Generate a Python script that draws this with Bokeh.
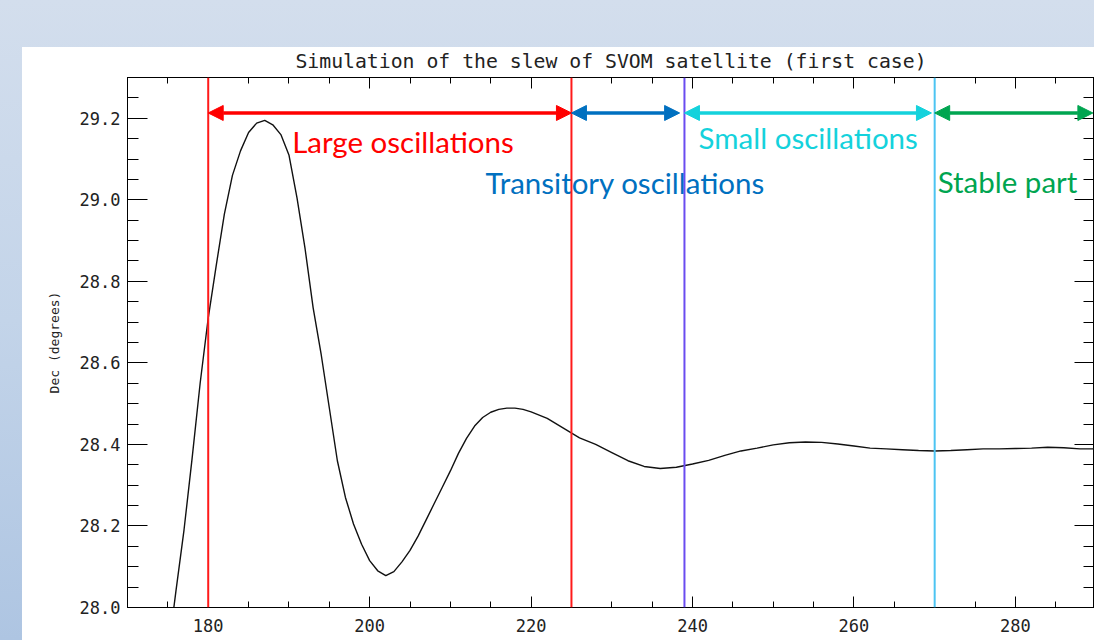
from bokeh.plotting import figure
from bokeh.models import (Span, Arrow, NormalHead, LinearAxis, FixedTicker,
                          Range1d, ColumnDataSource, CustomJSTickFormatter,
                          PrintfTickFormatter)
from bokeh.core.properties import value
from bokeh.embed import file_html
from bokeh.resources import INLINE

# ---------------- data ----------------
time_s = [174.0, 175.0, 176.0, 177.0, 178.0, 179.0, 180.0, 181.0, 182.0, 183.0,
          184.0, 185.0, 186.0, 187.0, 188.0, 189.0, 190.0, 191.0, 192.0, 193.0,
          194.0, 195.0, 196.0, 197.0, 198.0, 199.0, 200.0, 201.0, 202.0, 203.0,
          204.0, 205.0, 206.0, 207.0, 208.0, 209.0, 210.0, 211.0, 212.0, 213.0,
          214.0, 215.0, 216.0, 217.0, 218.0, 219.0, 220.0, 222.0, 224.0, 226.0,
          228.0, 230.0, 232.0, 234.0, 236.0, 238.0, 240.0, 242.0, 244.0, 246.0,
          248.0, 250.0, 252.0, 254.0, 256.0, 258.0, 260.0, 262.0, 264.0, 266.0,
          268.0, 270.0, 272.0, 274.0, 276.0, 278.0, 280.0, 282.0, 284.0, 286.0,
          288.0, 290.0]
dec_deg = [27.72, 27.885, 28.04, 28.19, 28.365, 28.55, 28.71, 28.84, 28.965, 29.06,
           29.12, 29.165, 29.188, 29.195, 29.184, 29.16, 29.11, 29.005, 28.88, 28.735,
           28.62, 28.49, 28.36, 28.27, 28.205, 28.155, 28.115, 28.09, 28.078, 28.088,
           28.112, 28.14, 28.175, 28.215, 28.255, 28.295, 28.335, 28.378, 28.415, 28.445,
           28.466, 28.479, 28.486, 28.489, 28.489, 28.486, 28.48, 28.464, 28.44, 28.416,
           28.4, 28.38, 28.36, 28.346, 28.341, 28.344, 28.352, 28.361, 28.373, 28.384,
           28.391, 28.399, 28.404, 28.406, 28.405, 28.401, 28.396, 28.391, 28.389, 28.387,
           28.385, 28.384, 28.385, 28.387, 28.389, 28.389, 28.39, 28.391, 28.393, 28.392,
           28.389, 28.389]

x_major = [180, 200, 220, 240, 260, 280]
x_minor = [170, 175, 185, 190, 195, 205, 210, 215, 225, 230, 235, 245, 250, 255,
           265, 270, 275, 285, 290]
y_major = [28.0, 28.2, 28.4, 28.6, 28.8, 29.0, 29.2]
y_minor = [28.05, 28.1, 28.15, 28.25, 28.3, 28.35, 28.45, 28.5, 28.55, 28.65, 28.7,
           28.75, 28.85, 28.9, 28.95, 29.05, 29.1, 29.15, 29.25, 29.3]

phase_bounds = [180, 225, 239, 270]
bound_colors = ["#ff1a1a", "#ff1a1a", "#6a4cf0", "#4cc4f2"]

arrow_start = [180, 225, 239, 270]
arrow_end = [225, 238.4, 269.6, 289.6]
arrow_level = 29.213
arrow_colors = ["#ff0000", "#0070c0", "#14d2dc", "#00a550"]

phase_names = ["Large oscillations", "Transitory oscillations", "Small oscillations", "Stable part"]
name_x = [190.4, 214.35, 240.75, 270.37]
name_y = [29.144, 29.042, 29.152, 29.045]

# ---------------- figure ----------------
p = figure(width=1094, height=640, output_backend="svg", toolbar_location=None,
           x_range=Range1d(170, 289.8), y_range=Range1d(28.0, 29.3),
           min_border_left=127, min_border_right=0, min_border_top=77,
           min_border_bottom=33, x_axis_location=None, y_axis_location=None)

p.border_fill_color = None
p.background_fill_color = "white"
p.outline_line_color = "black"
p.grid.visible = False
p.styles = {
    "background": "linear-gradient(#ffffff, #ffffff) 22px 47px / 100% 100% no-repeat, "
                  "linear-gradient(to bottom, #d3deed 0%, #c3d4e9 50%, #aec5e2 100%)"
}

p.title.text = "Simulation of the slew of SVOM satellite (first case)"
p.title.align = "center"
p.title.text_font = "DejaVu Sans Mono"
p.title.text_font_size = "19.8px"
p.title.text_font_style = "normal"
p.title.text_color = "#222222"
p.title.standoff = 9

tick_font = "DejaVu Sans Mono"

def style_axis(ax, horizontal, labels):
    ax.axis_line_color = "black"
    ax.axis_line_width = 1
    ax.major_tick_out = 0
    ax.minor_tick_out = 0
    ax.major_tick_in = 11 if horizontal else 20
    ax.minor_tick_in = 6 if horizontal else 11
    ax.major_tick_line_color = "black"
    ax.minor_tick_line_color = "black"
    if labels:
        ax.major_label_text_font = tick_font
        ax.major_label_text_font_size = "17px"
        ax.major_label_text_color = "#222222"
        ax.major_label_standoff = 7
    else:
        ax.formatter = CustomJSTickFormatter(code="return ''")
        ax.major_label_text_font_size = "0px"
        ax.major_label_standoff = 0

xt = FixedTicker(ticks=x_major, minor_ticks=x_minor)
yt = FixedTicker(ticks=y_major, minor_ticks=y_minor)

bottom = LinearAxis(ticker=xt)
style_axis(bottom, True, True)
bottom.major_label_standoff = 11
top = LinearAxis(ticker=xt)
style_axis(top, True, False)
left = LinearAxis(ticker=yt, axis_label="Dec (degrees)",
                  formatter=PrintfTickFormatter(format="%.1f"))
style_axis(left, False, True)
left.axis_label_text_font = tick_font
left.axis_label_text_font_size = "13px"
left.axis_label_text_font_style = "normal"
left.axis_label_text_color = "#222222"
left.axis_label_standoff = 15
right = LinearAxis(ticker=yt)
style_axis(right, False, False)

p.add_layout(bottom, "below")
p.add_layout(top, "above")
p.add_layout(left, "left")
p.add_layout(right, "right")

# curve
p.line(time_s, dec_deg, line_color="#111111", line_width=1.4)

# phase boundaries
for loc, col in zip(phase_bounds, bound_colors):
    p.add_layout(Span(location=loc, dimension="height", line_color=col, line_width=2))

# double arrows
for xs, xe, col in zip(arrow_start, arrow_end, arrow_colors):
    p.add_layout(Arrow(
        start=NormalHead(size=15, fill_color=col, line_color=col, line_width=1),
        end=NormalHead(size=15, fill_color=col, line_color=col, line_width=1),
        x_start=xs, y_start=arrow_level, x_end=xe, y_end=arrow_level,
        line_color=col, line_width=3.5))

# phase names
src = ColumnDataSource(dict(x=name_x, y=name_y, text=phase_names, color=arrow_colors))
p.text(x="x", y="y", text="text", text_color="color", source=src,
       text_font=value("Lato"), text_font_size=value("29.5px"),
       text_align="left", text_baseline="alphabetic")

open("out.html", "w").write(file_html(p, INLINE))
